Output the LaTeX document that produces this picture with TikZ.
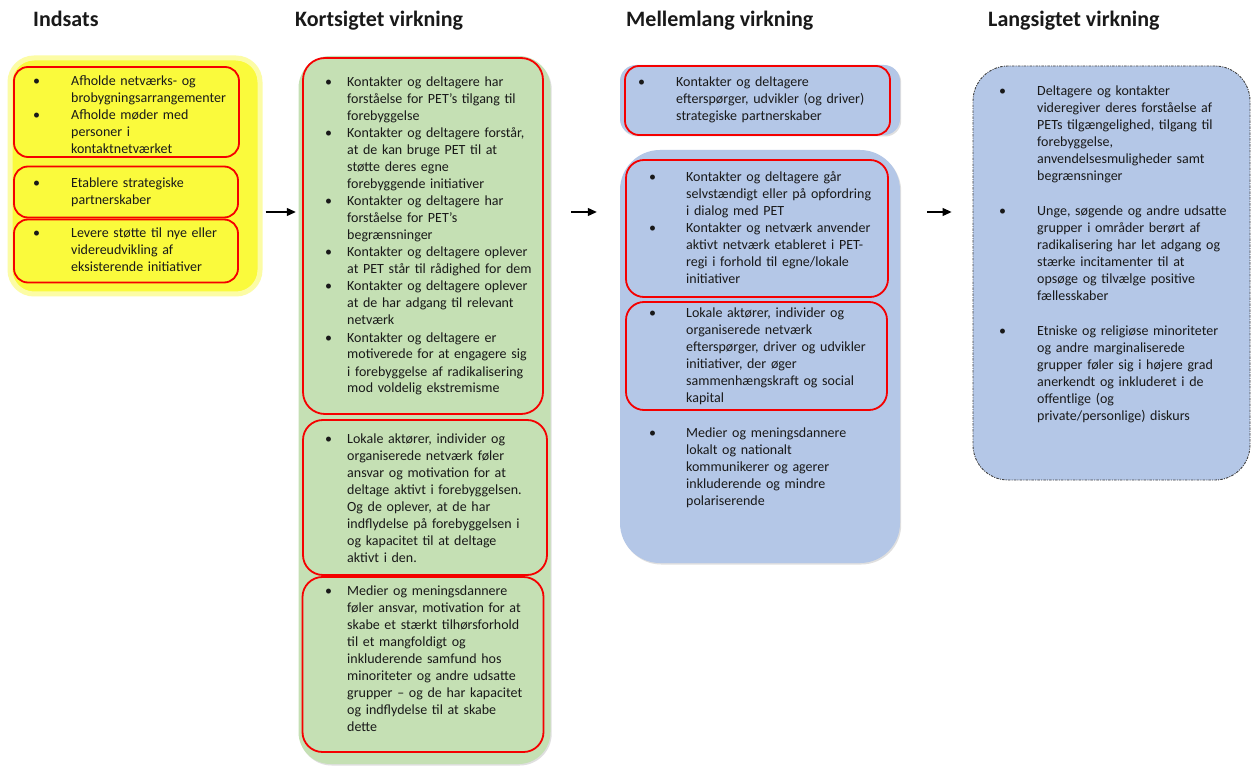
\documentclass[tikz,border=0pt]{standalone}
\usepackage{fontspec}
\setmainfont{Carlito}
\usetikzlibrary{shadows,arrows.meta}
\definecolor{yfill}{RGB}{250,250,60}
\definecolor{yglow}{RGB}{252,252,165}
\definecolor{gfill}{RGB}{197,224,180}
\definecolor{bfill}{RGB}{180,199,231}
\definecolor{txt}{RGB}{25,25,25}
\definecolor{redline}{RGB}{245,0,0}
\newcommand\bul[1]{\hspace*{-#1pt}\makebox[#1pt][l]{\textbullet}}
\tikzset{
  panel/.style={rectangle, inner sep=0pt},
  redbox/.style={rectangle, inner sep=0pt, draw=redline, line width=1.8pt, rounded corners=14pt},
  heading/.style={anchor=base west, inner sep=0pt, font=\bfseries\fontsize{22}{26}\selectfont, text=txt},
  itemtext/.style={anchor=base west, inner sep=0pt, align=left, text width=205pt, font=\fontsize{14}{17}\selectfont, text=txt},
  flow/.style={-{Triangle[length=9pt,width=8pt]}, line width=1.2pt, black},
  soft/.style={drop shadow={shadow xshift=1.2pt, shadow yshift=-1.5pt, opacity=0.25}},
}
\begin{document}
\begin{tikzpicture}[x=1pt,y=-1pt]
\useasboundingbox (0,0) rectangle (1253,767);
\fill[white] (0,0) rectangle (1253,767);

% headings
\node[heading] (h1) at (33,27) {Indsats};
\node[heading] (h2) at (295,27) {Kortsigtet virkning};
\node[heading] (h3) at (626,27) {Mellemlang virkning};
\node[heading] (h4) at (988,27) {Langsigtet virkning};

% panels
\node[panel, fill=yfill, draw=yglow, line width=5pt, rounded corners=24pt, minimum width=250pt, minimum height=236pt] (inp) at (135,176) {};
\node[panel, soft, fill=gfill, rounded corners=32pt, minimum width=252pt, minimum height=708pt] (grn) at (424.5,410) {};
\node[panel, soft, fill=bfill, rounded corners=16pt, minimum width=280pt, minimum height=70pt] (btop) at (760,100) {};
\node[panel, soft, fill=bfill, rounded corners=40pt, minimum width=280pt, minimum height=413pt] (bbig) at (760,356.5) {};
\node[panel, fill=bfill, draw=black!75, line width=0.9pt, dash pattern=on 2.5pt off 1.2pt on 1pt off 1.2pt, rounded corners=35pt, minimum width=277pt, minimum height=414pt] (lang) at (1111.5,273) {};

% red frames
\node[redbox, minimum width=225pt, minimum height=90pt] (ry1) at (126.5,112) {};
\node[redbox, minimum width=224pt, minimum height=51pt] (ry2) at (126,192) {};
\node[redbox, minimum width=224pt, minimum height=63pt] (ry3) at (126,251) {};
\node[redbox, rounded corners=22pt, minimum width=240pt, minimum height=356pt] (rg1) at (423,236) {};
\node[redbox, rounded corners=20pt, minimum width=244pt, minimum height=155pt] (rg2) at (425,497.5) {};
\node[redbox, rounded corners=20pt, minimum width=241pt, minimum height=175pt] (rg3) at (423,664.5) {};
\node[redbox, minimum width=265pt, minimum height=69pt] (rbt) at (757.5,100.5) {};
\node[redbox, rounded corners=18pt, minimum width=262pt, minimum height=137pt] (rb1) at (757,228.5) {};
\node[redbox, rounded corners=18pt, minimum width=261pt, minimum height=108pt] (rb2) at (756.5,356) {};

% arrows
\coordinate (row) at (0,212);
\draw[flow, shorten <=3pt, shorten >=2.5pt] (inp.east |- row) -- (grn.west |- row);
\draw[flow, shorten <=20.5pt, shorten >=23pt] (grn.east |- row) -- (bbig.west |- row);
\draw[flow, shorten <=27pt, shorten >=21pt] (bbig.east |- row) -- (lang.west |- row);

% Indsats texts
\node[itemtext] (y1a) at (71,86) {\bul{38}Afholde netværks- og\\brobygningsarrangementer};
\node[itemtext] (y1b) at (71,120) {\bul{38}Afholde møder med\\personer i\\kontaktnetværket};
\node[itemtext] (y2) at (71,188) {\bul{38}Etablere strategiske\\partnerskaber};
\node[itemtext] (y3) at (71,238) {\bul{38}Levere støtte til nye eller\\videreudvikling af\\eksisterende initiativer};

% Kortsigtet texts
\node[itemtext] (g1a) at (347,87) {\bul{22}Kontakter og deltagere har\\forståelse for PET’s tilgang til\\forebyggelse};
\node[itemtext] (g1b) at (347,138) {\bul{22}Kontakter og deltagere forstår,\\at de kan bruge PET til at\\støtte deres egne\\forebyggende initiativer};
\node[itemtext] (g1c) at (347,206) {\bul{22}Kontakter og deltagere har\\forståelse for PET’s\\begrænsninger};
\node[itemtext] (g1d) at (347,257) {\bul{22}Kontakter og deltagere oplever\\at PET står til rådighed for dem};
\node[itemtext] (g1e) at (347,291) {\bul{22}Kontakter og deltagere oplever\\at de har adgang til relevant\\netværk};
\node[itemtext] (g1f) at (347,342) {\bul{22}Kontakter og deltagere er\\motiverede for at engagere sig\\i forebyggelse af radikalisering\\mod voldelig ekstremisme};
\node[itemtext] (g2) at (347,443) {\bul{22}Lokale aktører, individer og\\organiserede netværk føler\\ansvar og motivation for at\\deltage aktivt i forebyggelsen.\\Og de oplever, at de har\\indflydelse på forebyggelsen i\\og kapacitet til at deltage\\aktivt i den.};
\node[itemtext] (g3) at (347,595) {\bul{22}Medier og meningsdannere\\føler ansvar, motivation for at\\skabe et stærkt tilhørsforhold\\til et mangfoldigt og\\inkluderende samfund hos\\minoriteter og andre udsatte\\grupper – og de har kapacitet\\og indflydelse til at skabe\\dette};

% Mellemlang texts
\node[itemtext] (bt) at (676,87) {\bul{38}Kontakter og deltagere\\efterspørger, udvikler (og driver)\\strategiske partnerskaber};
\node[itemtext] (b1a) at (686,182) {\bul{37}Kontakter og deltagere går\\selvstændigt eller på opfordring\\i dialog med PET};
\node[itemtext] (b1b) at (686,233) {\bul{37}Kontakter og netværk anvender\\aktivt netværk etableret i PET-\\regi i forhold til egne/lokale\\initiativer};
\node[itemtext] (b2) at (686,318) {\bul{37}Lokale aktører, individer og\\organiserede netværk\\efterspørger, driver og udvikler\\initiativer, der øger\\sammenhængskraft og social\\kapital};
\node[itemtext] (b3) at (686,437) {\bul{37}Medier og meningsdannere\\lokalt og nationalt\\kommunikerer og agerer\\inkluderende og mindre\\polariserende};

% Langsigtet texts
\node[itemtext] (l1) at (1037,96) {\bul{38}Deltagere og kontakter\\videregiver deres forståelse af\\PETs tilgængelighed, tilgang til\\forebyggelse,\\anvendelsesmuligheder samt\\begrænsninger};
\node[itemtext] (l2) at (1037,216) {\bul{38}Unge, søgende og andre udsatte\\grupper i områder berørt af\\radikalisering har let adgang og\\stærke incitamenter til at\\opsøge og tilvælge positive\\fællesskaber};
\node[itemtext] (l3) at (1037,336) {\bul{38}Etniske og religiøse minoriteter\\og andre marginaliserede\\grupper føler sig i højere grad\\anerkendt og inkluderet i de\\offentlige (og\\private/personlige) diskurs};
\end{tikzpicture}
\end{document}
